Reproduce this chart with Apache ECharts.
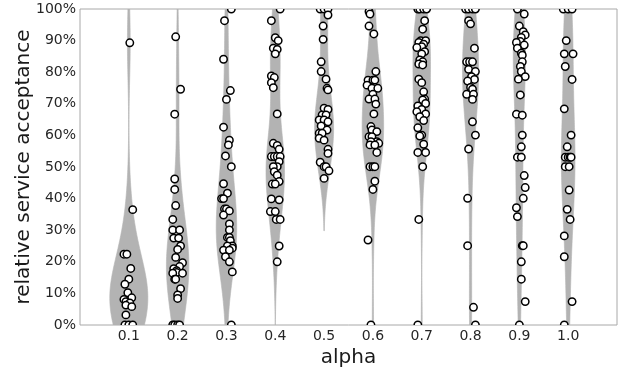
<!DOCTYPE html>
<html>
<head>
<meta charset="utf-8">
<script src="https://cdn.jsdelivr.net/npm/echarts@6/dist/echarts.min.js"></script>
<style>
  html, body { margin: 0; padding: 0; background: #fff; }
  #chart { width: 622px; height: 370px; }
</style>
</head>
<body>
<div id="chart"></div>
<script>
// categories on the x axis
const alphas = ["0.1", "0.2", "0.3", "0.4", "0.5", "0.6", "0.7", "0.8", "0.9", "1.0"];
const yTicks = [0, 10, 20, 30, 40, 50, 60, 70, 80, 90, 100];

// relative service acceptance (%) per alpha
const acc01 = [89.3, 36.5, 22.4, 22.4, 17.9, 14.5, 12.9, 10.2, 8.6, 8.1, 7.4, 7.0, 6.3, 5.8, 3.2, 0, 0, 0];
const acc02 = [91.2, 74.6, 66.7, 46.2, 42.9, 37.8, 33.4, 30.1, 30.1, 27.5, 27.5, 25.0, 23.9, 21.4, 19.7, 18.5, 17.8, 17.2, 16.6, 16.4, 16.4, 14.5, 14.5, 11.5, 9.5, 8.4, 0, 0, 0, 0];
const acc03 = [100, 96.3, 84.1, 74.2, 71.4, 62.6, 58.5, 57.0, 53.5, 50.1, 44.7, 41.7, 40.0, 40.0, 36.7, 36.7, 36.1, 34.8, 32.0, 30.1, 27.7, 27.7, 26.7, 25.0, 25.0, 24.3, 23.7, 23.7, 21.6, 20.0, 16.8, 0];
const acc04 = [100, 96.3, 90.9, 90.0, 87.6, 87.2, 85.8, 78.8, 78.3, 76.7, 75.1, 66.8, 57.5, 56.8, 55.6, 53.3, 53.3, 53.3, 53.3, 51.7, 50.1, 50.1, 48.5, 47.4, 45.4, 44.6, 44.6, 39.9, 39.6, 35.9, 35.9, 33.4, 33.4, 25.0, 20.0];
const acc05 = [100, 100, 100, 98.1, 94.6, 90.4, 83.3, 80.2, 77.8, 74.9, 74.4, 68.6, 68.2, 66.5, 66.5, 64.9, 64.9, 64.3, 63.0, 61.7, 60.7, 60.7, 59.1, 58.5, 55.6, 54.3, 51.5, 50.1, 50.1, 48.8, 46.4];
const acc06 = [99.2, 98.4, 94.6, 92.1, 80.2, 77.5, 77.5, 77.5, 75.9, 74.9, 74.9, 73.0, 71.5, 71.5, 69.9, 66.8, 62.8, 61.7, 61.2, 59.6, 59.6, 58.0, 58.0, 57.5, 57.0, 57.0, 54.6, 50.1, 50.1, 50.1, 45.5, 42.9, 26.9, 0];
const acc07 = [100, 100, 100, 100, 96.3, 93.6, 90.0, 90.0, 89.4, 88.9, 88.1, 87.8, 86.5, 85.8, 83.9, 83.3, 82.6, 82.3, 77.8, 76.7, 73.8, 71.5, 71.2, 70.1, 69.3, 68.2, 67.5, 66.8, 65.9, 64.7, 62.4, 60.1, 59.8, 57.2, 54.6, 54.6, 50.1, 33.4, 0];
const acc08 = [100, 100, 100, 100, 96.3, 95.3, 87.6, 83.3, 83.3, 83.3, 80.9, 80.2, 78.6, 77.7, 77.2, 75.2, 74.6, 73.0, 73.0, 71.4, 64.3, 60.1, 55.7, 40.1, 25.1, 5.6, 0];
const acc09 = [100, 98.4, 94.6, 92.8, 91.8, 91.0, 89.7, 89.4, 88.6, 87.6, 86.0, 85.4, 83.3, 81.8, 80.2, 78.6, 77.8, 72.8, 66.7, 66.4, 60.1, 56.4, 53.1, 53.1, 47.3, 43.5, 40.1, 37.1, 34.3, 25.1, 25.1, 20.0, 14.5, 7.4, 0];
const acc10 = [100, 100, 100, 90.0, 85.8, 85.8, 81.8, 77.7, 68.4, 60.1, 56.4, 53.1, 53.1, 53.1, 53.1, 50.1, 50.1, 42.7, 36.6, 33.4, 28.2, 21.6, 7.4, 0];

// horizontal strip jitter of each point, in 1/50 of a category step
const jit01 = [1, 4, -5, -2, 2, 0, -4, -1, 3, -5, -3, 1, -3, 3, -3, -4, 0, 4];
const jit02 = [-2, 3, -3, -3, -3, -2, -5, -5, 2, -4, 1, 3, 0, -2, 5, 2, -4, -1, -1, 5, -5, -3, -2, 3, 0, 0, -5, -3, 0, 2];
const jit03 = [5, -2, -3, 4, 0, -3, 3, 2, -1, 5, -3, 1, -5, -3, -2, 0, 3, -3, 3, 3, 1, 3, 4, 6, 1, 6, -3, 3, -1, 3, 6, 5];
const jit04 = [5, -4, 0, 3, -2, 2, 0, -4, -1, -4, -2, 2, -2, 2, 4, -4, -1, 2, 5, 4, 2, -2, -1, 2, 4, -3, 0, -4, 4, -5, 0, 1, 5, 4, 2];
const jit05 = [-4, 0, 4, 4, -1, -1, -3, -3, 2, 3, 4, 0, 4, -2, 2, -5, 0, 4, -3, 3, -5, -2, -5, 0, 4, 4, -4, 0, 2, 5, 0];
const jit06 = [-4, -3, -4, 1, 3, -5, 0, 2, -6, -1, 5, 0, -4, 2, 3, 1, -2, -1, 4, -4, -1, 4, -2, 6, -3, 2, 4, -3, 0, 2, 2, 0, -5, -2];
const jit07 = [-4, -2, 2, 5, 3, 1, -1, 4, -3, 2, 0, -5, 3, 0, -2, 1, -3, 1, -3, 0, 2, 3, 1, 4, -4, 0, -5, 4, -2, 2, -4, 0, -2, 2, -4, 4, 1, -3, -4];
const jit08 = [-5, -2, 2, 5, -2, 0, 4, -4, -1, 2, -2, 5, 1, 4, -3, 0, 2, -4, 3, 2, 2, 5, -2, -3, -3, 3, 5];
const jit09 = [-2, 5, 0, 4, 6, 2, 1, -3, 5, -2, 2, 3, 3, 1, 2, 6, -1, 1, -3, 3, 3, 2, -2, 2, 5, 6, 4, -3, -2, 3, 4, 2, 2, 6, 0];
const jit10 = [-5, 0, 4, -2, -4, 5, -3, 4, -4, 3, -1, -3, 0, 2, 3, -3, 1, 1, -1, 2, -4, -4, 4, -4];

const accByAlpha = [acc01, acc02, acc03, acc04, acc05, acc06, acc07, acc08, acc09, acc10];
const jitByAlpha = [jit01, jit02, jit03, jit04, jit05, jit06, jit07, jit08, jit09, jit10];

// widest half-width of each violin, in category steps (as drawn)
const violinHalfWidth = [0.39, 0.23, 0.21, 0.19, 0.195, 0.22, 0.18, 0.165, 0.125, 0.14];

// gaussian kde (scott bandwidth, cut = 2), clipped to the axis range
function kde(vals) {
  const n = vals.length;
  const mean = vals.reduce((a, b) => a + b, 0) / n;
  const sd = Math.sqrt(vals.reduce((a, b) => a + (b - mean) ** 2, 0) / (n - 1));
  const bw = sd * Math.pow(n, -1 / 5);
  const lo = Math.max(0, Math.min(...vals) - 2 * bw);
  const hi = Math.min(100, Math.max(...vals) + 2 * bw);
  const pts = [];
  const steps = 120;
  for (let k = 0; k <= steps; k++) {
    const y = lo + (hi - lo) * k / steps;
    let d = 0;
    vals.forEach((v) => {
      const z = (y - v) / bw;
      d += Math.exp(-0.5 * z * z);
    });
    pts.push([y, d / (n * bw * Math.sqrt(2 * Math.PI))]);
  }
  const peak = Math.max(...pts.map((p) => p[1]));
  return pts.map(([y, d]) => [y, d / peak]);
}

const curves = accByAlpha.map(kde);

const points = [];
accByAlpha.forEach((vals, i) => {
  vals.forEach((v, k) => points.push([i + jitByAlpha[i][k] / 50, v]));
});

const chart = echarts.init(document.getElementById("chart"), null, { renderer: "canvas" });

const option = {
  animation: false,
  textStyle: { fontFamily: "DejaVu Sans" },
  grid: {
    left: 80, right: 5, top: 9, bottom: 45,
    outerBoundsMode: "none",
    containLabel: false,
    show: true, borderColor: "#a8a8a8", borderWidth: 1,
  },
  xAxis: {
    type: "value",
    min: -1,
    max: 10,
    interval: 1,
    name: "alpha",
    nameLocation: "middle",
    nameGap: 23,
    nameMoveOverlap: false,
    nameTextStyle: { fontSize: 20, color: "#1a1a1a" },
    axisLine: { show: false },
    axisTick: { show: false },
    splitLine: { show: false },
    axisLabel: {
      fontSize: 14,
      color: "#262626",
      margin: 4,
      formatter: (v) => alphas[v] || "",
    },
  },
  yAxis: {
    type: "value",
    min: yTicks[0],
    max: yTicks[yTicks.length - 1],
    interval: 10,
    name: "relative service acceptance",
    nameLocation: "middle",
    nameGap: 46,
    nameMoveOverlap: false,
    nameTextStyle: { fontSize: 20, color: "#1a1a1a" },
    axisLine: { show: false },
    axisTick: { show: false },
    splitLine: { show: false },
    axisLabel: {
      fontSize: 14,
      color: "#262626",
      margin: 4,
      formatter: "{value}%",
    },
  },
  series: [
    {
      type: "custom",
      clip: true,
      z: 2,
      data: alphas.map((a, i) => [i]),
      renderItem: (params, api) => {
        const i = params.dataIndex;
        const w = violinHalfWidth[i];
        const c = curves[i];
        const right = c.map(([y, d]) => api.coord([i + w * d, y]));
        const left = c.slice().reverse().map(([y, d]) => api.coord([i - w * d, y]));
        return {
          type: "polygon",
          shape: { points: right.concat(left) },
          style: { fill: "#b3b3b3", stroke: "#b3b3b3", lineWidth: 0.6 },
        };
      },
    },
    {
      type: "custom",
      clip: true,
      z: 3,
      data: points,
      renderItem: (params, api) => {
        const p = api.coord([api.value(0), api.value(1)]);
        return {
          type: "circle",
          shape: { cx: p[0], cy: p[1], r: 3.7 },
          style: { fill: "#ffffff", stroke: "#000000", lineWidth: 1.5 },
        };
      },
    },
  ],
};

chart.setOption(option);
</script>
</body>
</html>
